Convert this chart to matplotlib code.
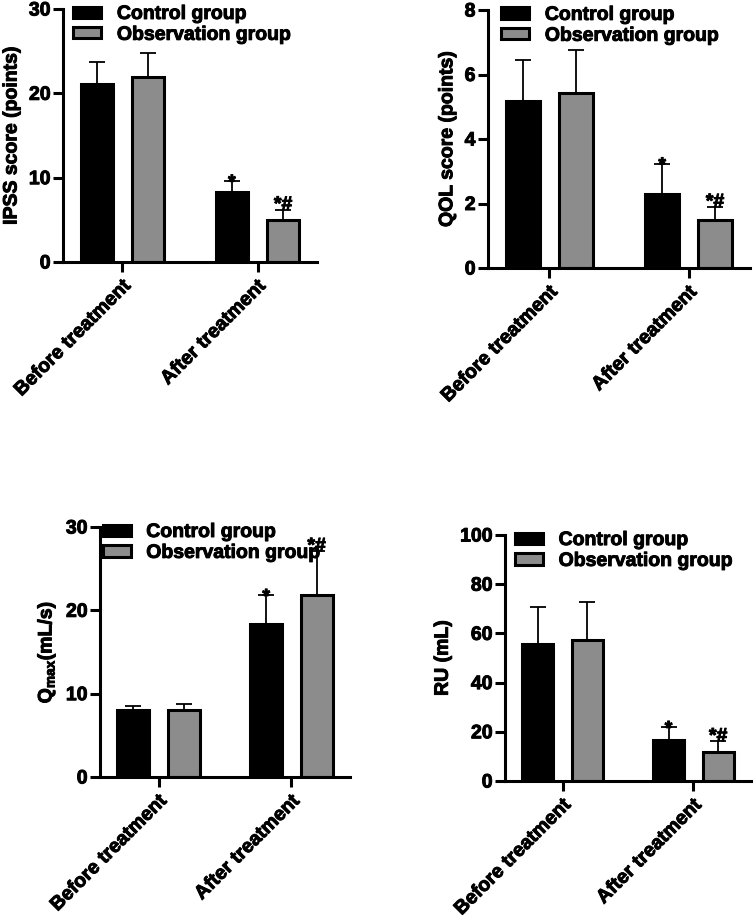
import matplotlib
matplotlib.use('Agg')
import matplotlib.pyplot as plt
import matplotlib.patheffects as pe
import numpy as np

plt.rcParams['font.family'] = ['Liberation Sans', 'DejaVu Sans']
plt.rcParams['font.weight'] = 'bold'
plt.rcParams['axes.labelweight'] = 'bold'
plt.rcParams['mathtext.fontset'] = 'custom'
plt.rcParams['mathtext.rm'] = 'Liberation Sans:bold'
plt.rcParams['mathtext.bf'] = 'Liberation Sans:bold'
plt.rcParams['mathtext.it'] = 'Liberation Sans:bold'

# ---------------- data ----------------
categories = ['Before treatment', 'After treatment']
groups = ['Control group', 'Observation group']

ipss_ctrl = [21.1, 8.3]
ipss_ctrl_sd = [2.6, 1.3]
ipss_obs = [21.9, 5.0]
ipss_obs_sd = [2.9, 1.2]

qol_ctrl = [5.19, 2.30]
qol_ctrl_sd = [1.27, 0.93]
qol_obs = [5.43, 1.49]
qol_obs_sd = [1.34, 0.40]

qmax_ctrl = [8.0, 18.35]
qmax_ctrl_sd = [0.55, 3.45]
qmax_obs = [8.05, 21.8]
qmax_obs_sd = [0.7, 5.3]

ru_ctrl = [55.8, 16.6]
ru_ctrl_sd = [14.9, 5.2]
ru_obs = [57.4, 11.9]
ru_obs_sd = [15.2, 4.2]

marks_ctrl = ['', '*']
marks_obs = ['', '*#']

ipss_ticks = [0, 10, 20, 30]
qol_ticks = [0, 2, 4, 6, 8]
qmax_ticks = [0, 10, 20, 30]
ru_ticks = [0, 20, 40, 60, 80, 100]

# ---------------- layout ----------------
W, H = 756, 915
fig = plt.figure(figsize=(W / 100, H / 100), dpi=100)

GRAY = '#8c8c8c'
FS = 14
LW = 2.2
THICK = [pe.withStroke(linewidth=0.7, foreground='black')]

panels = [
    ((63, 9, 317, 262), ipss_ctrl, ipss_ctrl_sd, ipss_obs, ipss_obs_sd, ipss_ticks,
     'IPSS score (points)', 0.04),
    ((488, 10, 750, 268), qol_ctrl, qol_ctrl_sd, qol_obs, qol_obs_sd, qol_ticks,
     'QOL score (points)', 0.05),
    ((100, 527, 350, 777), qmax_ctrl, qmax_ctrl_sd, qmax_obs, qmax_obs_sd, qmax_ticks,
     r'Q$_{\rm max}$(mL/s)', 0.01),
    ((505, 535, 751, 781), ru_ctrl, ru_ctrl_sd, ru_obs, ru_obs_sd, ru_ticks,
     'RU (mL)', 0.04),
]

x = np.arange(len(categories))
bw = 0.24
off = 0.19

for (l, t, r, b), c, csd, o, osd, ticks, ylab, lgx in panels:
    ax = fig.add_axes([l / W, 1 - b / H, (r - l) / W, (b - t) / H])
    bc = ax.bar(x - off, c, bw, color='black', edgecolor='black', linewidth=LW,
                label=groups[0], zorder=2)
    bo = ax.bar(x + off, o, bw, color=GRAY, edgecolor='black', linewidth=LW,
                label=groups[1], zorder=2)
    for xs, vals, sds, marks in ((x - off, c, csd, marks_ctrl), (x + off, o, osd, marks_obs)):
        ax.errorbar(xs, vals, yerr=[np.zeros(len(vals)), sds], fmt='none',
                    ecolor='black', elinewidth=1.3, capsize=6, capthick=1.3, zorder=3)
        for xi, v, s, m in zip(xs, vals, sds, marks):
            if m:
                dy = -5 if m == '*' else 0
                ax.annotate(m, (xi, v + s), xytext=(0, dy), textcoords='offset points',
                            ha='center', va='baseline', fontsize=FS, fontweight='bold',
                            zorder=4, path_effects=THICK)
    ax.set_xlim(-0.44, 1.44)
    ax.set_ylim(0, ticks[-1])
    ax.set_yticks(ticks)
    ax.set_xticks(x)
    ax.set_xticklabels(categories, rotation=45, ha='right', rotation_mode='anchor',
                       fontsize=FS, fontweight='bold')
    ax.tick_params(axis='y', labelsize=FS, length=7, width=LW, pad=2)
    ax.tick_params(axis='x', length=7, width=LW, pad=4)
    for lab in ax.get_yticklabels() + ax.get_xticklabels():
        lab.set_fontweight('bold')
        lab.set_path_effects(THICK)
    ax.spines['top'].set_visible(False)
    ax.spines['right'].set_visible(False)
    ax.spines['left'].set_linewidth(LW)
    ax.spines['bottom'].set_linewidth(LW)
    ax.spines['left'].set_zorder(5)
    ax.spines['bottom'].set_zorder(5)
    ax.set_ylabel(ylab, fontsize=FS, fontweight='bold', labelpad=6, path_effects=THICK)
    leg = ax.legend(handles=[bc, bo], loc='upper left', bbox_to_anchor=(lgx, 1.012),
                    frameon=False, prop={'weight': 'bold', 'size': FS},
                    handlelength=1.45, handleheight=0.5, handletextpad=0.8,
                    labelspacing=0.2, borderpad=0, borderaxespad=0)
    for txt in leg.get_texts():
        txt.set_path_effects(THICK)

fig.savefig('out.png', dpi=100)
